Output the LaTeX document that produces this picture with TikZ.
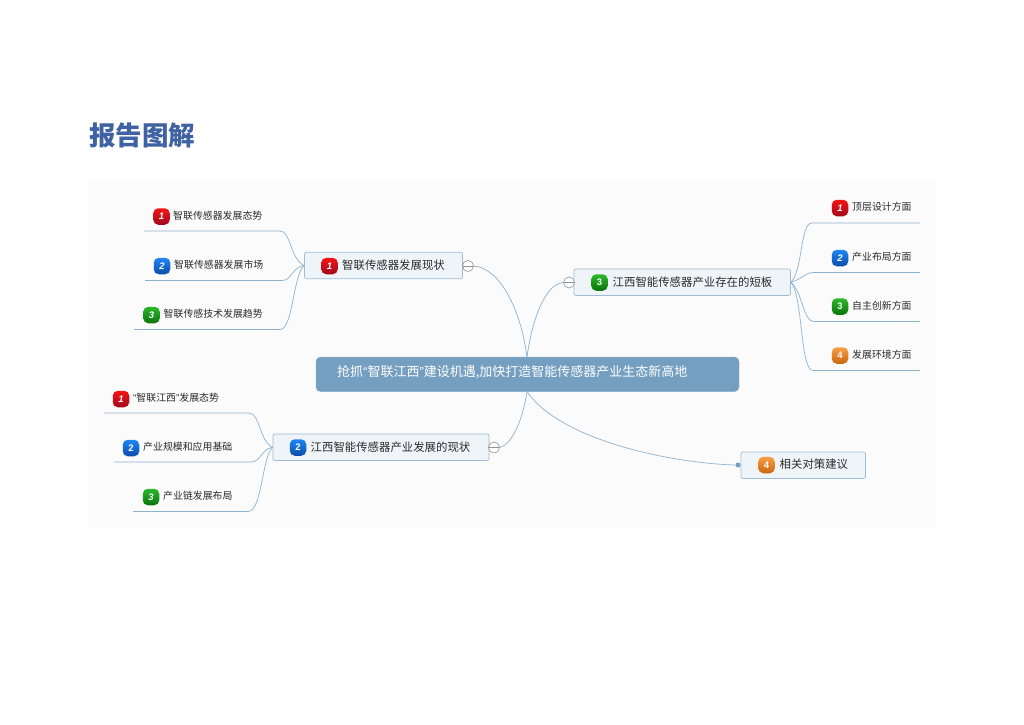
\documentclass[tikz,border=0pt]{standalone}
\usepackage{fontspec}
\setmainfont{Noto Sans CJK SC}
\newfontfamily\digitfont{Liberation Sans}
\newcommand{\nq}[1]{{\digitfont #1}}
\definecolor{bgc}{HTML}{FBFBFC}
\definecolor{linec}{HTML}{8DB3CF}
\definecolor{centerc}{HTML}{749FC0}
\definecolor{boxf}{HTML}{EFF4F8}
\definecolor{boxd}{HTML}{9DBDD6}
\definecolor{titlec}{HTML}{3F62A3}
\definecolor{txtc}{HTML}{2A2A2A}
\definecolor{redt}{HTML}{F51414}
\definecolor{redd}{HTML}{A00A1E}
\definecolor{bluet}{HTML}{1F86F5}
\definecolor{blued}{HTML}{0A4EA8}
\definecolor{greent}{HTML}{2DB82D}
\definecolor{greend}{HTML}{0A740A}
\definecolor{oranget}{HTML}{FA9F45}
\definecolor{oranged}{HTML}{C9650F}
\tikzset{
  x=1pt,y=-1pt,
  conn/.style={draw=linec,line width=0.7pt},
  rootbox/.style={fill=centerc,draw=centerc!85!white,rounded corners=4.5pt,minimum width=423pt,minimum height=34.5pt,inner sep=0pt},
  branchbox/.style={fill=boxf,draw=boxd,line width=0.7pt,rounded corners=2pt,inner sep=0pt,minimum height=26.5pt},
  badge/.style={rounded corners=5pt,minimum size=16.5pt,inner sep=0pt,text=white,font=\digitfont\bfseries\fontsize{9.5}{10}\selectfont},
  redb/.style={badge,top color=redt,bottom color=redd},
  blueb/.style={badge,top color=bluet,bottom color=blued},
  greenb/.style={badge,top color=greent,bottom color=greend},
  orangeb/.style={badge,top color=oranget,bottom color=oranged},
  leaftext/.style={anchor=west,inner sep=0pt,text=txtc,font=\fontsize{9.9}{10}\selectfont},
  branchtext/.style={anchor=west,inner sep=0pt,text=txtc,font=\fontsize{11.4}{12}\selectfont},
  roottext/.style={anchor=west,inner sep=0pt,text=white,font=\fontsize{13}{13}\selectfont},
  toggle/.style={circle,draw=gray!85,fill=white,line width=0.6pt,minimum size=11pt,inner sep=0pt},
  enddot/.style={circle,fill=centerc,minimum size=5pt,inner sep=0pt},
}
\begin{document}
\begin{tikzpicture}
\useasboundingbox (0,0) rectangle (1024,724);
\fill[bgc] (88,180) rectangle (936,528);
\node[anchor=west,inner sep=0pt,text=titlec,font=\bfseries\fontsize{26.5}{27}\selectfont] (title) at (89,135) {报告图解};

% root
\node[rootbox] (root) at (527.5,374.3) {};
\node[roottext] (roott) at (337,372) {抢抓\nq{“}智联江西\nq{”}建设机遇,加快打造智能传感器产业生态新高地};

% branch A
\node[branchbox,minimum width=158pt] (A) at (383.5,265.5) {};
\node[redb] (Ab) at (329.5,266) {\itshape 1};
\node[branchtext] (At) at (342,265) {智联传感器发展现状};
\node[toggle] (Ac) at (468,266) {};
% branch B
\node[branchbox,minimum width=216pt] (B) at (381,447.2) {};
\node[blueb] (Bb) at (298,447.5) {2};
\node[branchtext] (Bt) at (310.5,447) {江西智能传感器产业发展的现状};
\node[toggle] (Bc) at (494,447.5) {};
% branch C
\node[branchbox,minimum width=216.5pt] (C) at (682.3,282.2) {};
\node[greenb] (Cb) at (599.5,282.5) {3};
\node[branchtext] (Ct) at (612.5,282) {江西智能传感器产业存在的短板};
\node[toggle] (Cc) at (569,282.5) {};
% branch D
\node[branchbox,minimum width=124.5pt] (D) at (803.3,465.2) {};
\node[orangeb] (Db) at (766.5,465) {4};
\node[branchtext] (Dt) at (779.5,464.5) {相关对策建议};
\node[enddot] (Dd) at (738,465) {};

% toggle bars
\foreach \c in {Ac,Bc,Cc}{\draw[gray!85,line width=0.6pt] (\c.west) -- (\c.east);}

% root connectors
\coordinate (rt) at (527,357);
\coordinate (rb) at (527,391.5);
\draw[conn] (rt) .. controls (521,310) and (500,268) .. (Ac.east);
\draw[conn] (rt) .. controls (532,320) and (545,284) .. (Cc.west);
\draw[conn] (rb) .. controls (522,425) and (510,445) .. (Bc.east);
\draw[conn] (rb) .. controls (560,440) and (670,463) .. (Dd.west);

% leaves of A
\node[redb] (A1b) at (161.5,216.5) {\itshape 1};
\node[leaftext] (A1) at (173,215.5) {智联传感器发展态势};
\node[blueb] (A2b) at (162,266) {\itshape 2};
\node[leaftext] (A2) at (174,265) {智联传感器发展市场};
\node[greenb] (A3b) at (151.5,315) {\itshape 3};
\node[leaftext] (A3) at (163.5,314) {智联传感技术发展趋势};
\coordinate (A1s) at (144,231);
\coordinate (A2s) at (145,280.5);
\coordinate (A3s) at (134,329.5);
\draw[conn] (A1s) -- (280,231) .. controls (291,231) and (290,259) .. (A.west);
\draw[conn] (A2s) -- (282,280.5) .. controls (292,280.5) and (292,267) .. (A.west);
\draw[conn] (A3s) -- (280,329.5) .. controls (293,329.5) and (293,275) .. (A.west);

% leaves of B
\node[redb] (B1b) at (121,399) {\itshape 1};
\node[leaftext] (B1) at (133,398) {\nq{“}智联江西\nq{”}发展态势};
\node[blueb] (B2b) at (131,448) {2};
\node[leaftext] (B2) at (143,447) {产业规模和应用基础};
\node[greenb] (B3b) at (151,497) {\itshape 3};
\node[leaftext] (B3) at (163,496) {产业链发展布局};
\coordinate (B1s) at (104,413);
\coordinate (B2s) at (114,462);
\coordinate (B3s) at (133,511.5);
\draw[conn] (B1s) -- (249,413) .. controls (260,413) and (259,441) .. (B.west);
\draw[conn] (B2s) -- (251,462) .. controls (261,462) and (261,449) .. (B.west);
\draw[conn] (B3s) -- (248,511.5) .. controls (262,511.5) and (262,457) .. (B.west);

% leaves of C
\node[redb] (C1b) at (840,208) {\itshape 1};
\node[leaftext] (C1) at (852,207) {顶层设计方面};
\node[blueb] (C2b) at (840,258) {\itshape 2};
\node[leaftext] (C2) at (852,257) {产业布局方面};
\node[greenb] (C3b) at (840,306.5) {3};
\node[leaftext] (C3) at (852,305.5) {自主创新方面};
\node[orangeb] (C4b) at (840,355.5) {4};
\node[leaftext] (C4) at (852,354.5) {发展环境方面};
\coordinate (C1e) at (920,223);
\coordinate (C2e) at (920,272.5);
\coordinate (C3e) at (920,321.5);
\coordinate (C4e) at (920,370.5);
\draw[conn] (C1e) -- (812,223) .. controls (800,223) and (803,270) .. (C.east);
\draw[conn] (C2e) -- (814,272.5) .. controls (804,272.5) and (803,279) .. (C.east);
\draw[conn] (C3e) -- (814,321.5) .. controls (803,321.5) and (803,293) .. (C.east);
\draw[conn] (C4e) -- (813,370.5) .. controls (800,370.5) and (803,296) .. (C.east);
\end{tikzpicture}
\end{document}
